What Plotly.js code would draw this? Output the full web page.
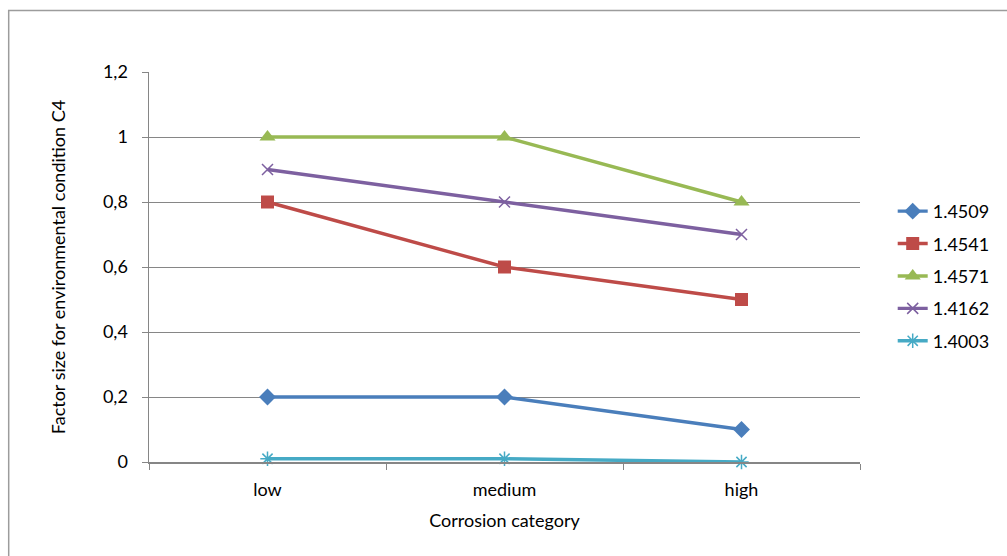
<!DOCTYPE html>
<html>
<head>
<meta charset="utf-8">
<script src="https://cdn.plot.ly/plotly-3.0.1.min.js"></script>
<style>
  html, body { margin: 0; padding: 0; background: #fff; }
  #chart { width: 1007px; height: 556px; }
</style>
</head>
<body>
<div id="chart"></div>
<script>
// Corrosion categories on the x axis
const categories = ["low", "medium", "high"];

// Factor size for environmental condition C4, per steel grade
const grade14509 = [0.2, 0.2, 0.1];
const grade14541 = [0.8, 0.6, 0.5];
const grade14571 = [1.0, 1.0, 0.8];
const grade14162 = [0.9, 0.8, 0.7];
const grade14003 = [0.01, 0.01, 0.0];

const seriesNames = ["1.4509", "1.4541", "1.4571", "1.4162", "1.4003"];
const yTickValues = [0, 0.2, 0.4, 0.6, 0.8, 1.0, 1.2];

const FONT = "Lato, 'Open Sans', sans-serif";
const FS = 18;

function series(name, values, color, symbol, size, lineWidthMarker) {
  return {
    type: "scatter",
    mode: "lines+markers",
    name: name,
    x: categories,
    y: values,
    legendgroup: name,
    line: { color: color, width: 3.4 },
    marker: {
      color: color,
      symbol: symbol,
      size: size,
      line: { color: color, width: lineWidthMarker }
    },
    cliponaxis: false
  };
}

const traces = [
  series(seriesNames[0], grade14509, "#4A7EBB", "diamond", 13, 0),
  series(seriesNames[1], grade14541, "#BE4B48", "square", 13, 0),
  series(seriesNames[2], grade14571, "#98B954", "triangle-up", 14, 0),
  series(seriesNames[3], grade14162, "#7D60A0", "x-thin-open", 11, 1.5),
  series(seriesNames[4], grade14003, "#46AAC5", "asterisk-open", 12, 1.5)
];

const layout = {
  width: 1007,
  height: 556,
  margin: { l: 149, r: 147, t: 72, b: 94 },
  paper_bgcolor: "#ffffff",
  plot_bgcolor: "#ffffff",
  separators: ",.",
  font: { family: FONT, size: FS, color: "#000000" },
  showlegend: true,
  legend: {
    x: 1.046,
    xanchor: "left",
    y: 0.477,
    yanchor: "middle",
    font: { family: FONT, size: FS, color: "#000" },
    tracegroupgap: 6,
    bgcolor: "rgba(0,0,0,0)"
  },
  xaxis: {
    type: "category",
    tickson: "boundaries",
    ticks: "outside",
    ticklen: 6,
    tickcolor: "#868686",
    showline: true,
    linecolor: "#868686",
    linewidth: 1.5,
    showgrid: false,
    zeroline: false,
    range: [-0.5, 2.5],
    ticklabelstandoff: 11,
    tickfont: { family: FONT, size: FS },
    title: { text: "Corrosion category", font: { family: FONT, size: FS }, standoff: 15 }
  },
  yaxis: {
    range: [0, 1.2],
    tickvals: yTickValues,
    ticks: "outside",
    ticklen: 6,
    tickcolor: "#868686",
    showline: true,
    linecolor: "#868686",
    linewidth: 1.5,
    showgrid: true,
    gridcolor: "#868686",
    gridwidth: 1,
    zeroline: false,
    ticklabelstandoff: 10,
    tickfont: { family: FONT, size: FS },
    title: { text: "Factor size for environmental condition C4", font: { family: FONT, size: FS }, standoff: 32 }
  },
  shapes: [
    {
      type: "rect",
      xref: "paper", yref: "paper",
      x0: (8.5 - 149) / 712, x1: (1015 - 149) / 712,
      y0: (462 - 565) / 390, y1: (462 - 10.5) / 390,
      line: { color: "#9c9c9c", width: 1.5 },
      fillcolor: "rgba(0,0,0,0)",
      layer: "below"
    }
  ]
};

Plotly.newPlot("chart", traces, layout, { displayModeBar: false, staticPlot: true });
</script>
</body>
</html>
